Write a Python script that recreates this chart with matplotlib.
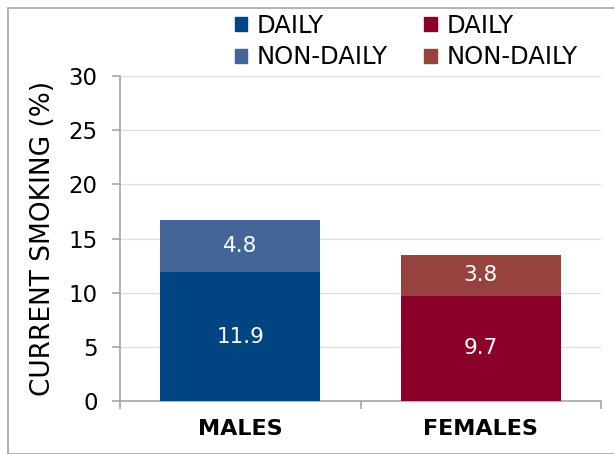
import matplotlib
matplotlib.use("Agg")
import matplotlib.pyplot as plt
from matplotlib.patches import Rectangle, Patch

plt.rcParams['font.family'] = ['DejaVu Sans']

categories = ["MALES", "FEMALES"]
daily = [11.9, 9.7]
non_daily = [4.8, 3.8]
daily_colors = ["#004581", "#8b0029"]
non_daily_colors = ["#436598", "#964340"]
yticks = [0, 5, 10, 15, 20, 25, 30]

fig = plt.figure(figsize=(6.14, 4.54), dpi=100)
fig.patches.append(Rectangle((8/614, 0), 1, 1 - 8/454, transform=fig.transFigure,
                             fill=False, edgecolor="#a6a6a6", linewidth=1.2))
ax = fig.add_axes([120/614, 1 - 401/454, 481/614, 325/454])

x = range(len(categories))
w = 0.667
ax.bar(x, daily, width=w, color=daily_colors, zorder=3)
ax.bar(x, non_daily, bottom=daily, width=w, color=non_daily_colors, zorder=3)
for i in x:
    ax.text(i, daily[i] / 2, f"{daily[i]:.1f}", ha="center", va="center",
            color="white", fontsize=15.5, zorder=4)
    ax.text(i, daily[i] + non_daily[i] / 2, f"{non_daily[i]:.1f}", ha="center",
            va="center", color="white", fontsize=15.5, zorder=4)

ax.set_xlim(-0.5, 1.5)
ax.set_ylim(0, 30)
ax.set_yticks(yticks)
ax.set_yticklabels([str(t) for t in yticks], fontsize=16.5)
ax.set_xticks([-0.5, 0.5, 1.5], minor=False)
ax.set_xticklabels([])
ax.set_xticks([0, 1], minor=True)
ax.set_xticklabels(categories, minor=True, fontsize=16, fontweight="bold")
ax.tick_params(axis="x", which="minor", length=0, pad=13)
ax.tick_params(axis="x", which="major", length=6, color="#a6a6a6", width=1.2)
ax.tick_params(axis="y", length=6, color="#a6a6a6", width=1.2, pad=10)
ax.grid(axis="y", color="#e0e0e0", linewidth=1, zorder=0)
for s in ["top", "right"]:
    ax.spines[s].set_visible(False)
for s in ["left", "bottom"]:
    ax.spines[s].set_color("#a6a6a6")
    ax.spines[s].set_linewidth(1.2)
ax.set_ylabel("CURRENT SMOKING (%)", fontsize=19, labelpad=9)

handles = [Patch(color=daily_colors[0]), Patch(color=non_daily_colors[0]),
           Patch(color=daily_colors[1]), Patch(color=non_daily_colors[1])]
labels = ["DAILY", "NON-DAILY", "DAILY", "NON-DAILY"]
fig.legend(handles, labels, ncol=2, loc="upper left", bbox_to_anchor=(235/614, 1 - 14/454),
           frameon=False, fontsize=17.5, handlelength=0.5, handleheight=0.5,
           handletextpad=0.4, columnspacing=1.5, labelspacing=0.3, borderpad=0,
           borderaxespad=0)

fig.savefig("out.png", dpi=100)
